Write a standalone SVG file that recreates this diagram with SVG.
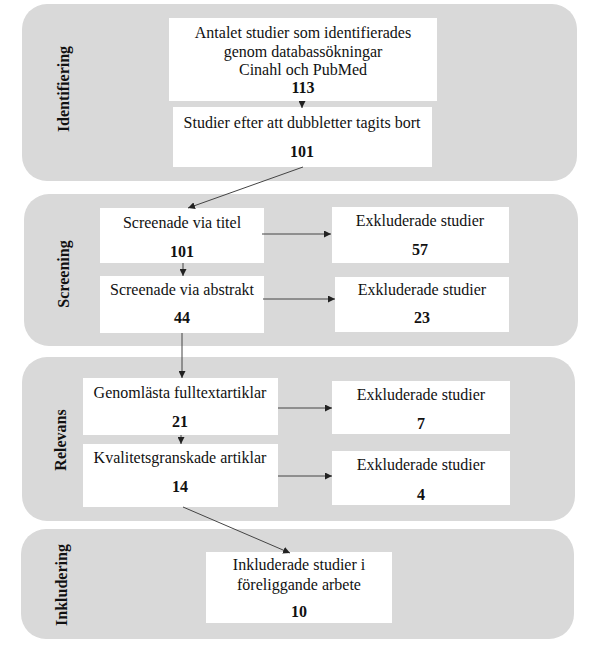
<svg xmlns="http://www.w3.org/2000/svg" width="598" height="646" viewBox="0 0 598 646">
<defs>
<marker id="ah" viewBox="0 0 10 10" refX="10" refY="5" markerWidth="7" markerHeight="7" markerUnits="userSpaceOnUse" orient="auto">
<path d="M0,0 L10,5 L0,10 z" fill="#222"/>
</marker>
</defs>
<style>
.panel{fill:#d9d9d9}
.box{fill:#ffffff}
.b{font-weight:bold}
.lab{font-weight:bold;font-size:16px}
.c{stroke:#444;stroke-width:1;fill:none;marker-end:url(#ah)}
</style>
<rect width="598" height="646" fill="#ffffff"/>
<g font-family="Liberation Serif, Times New Roman, serif" font-size="16" fill="#111" text-anchor="middle">
<g id="panel-identifiering">
<rect class="panel" x="22" y="4" width="555" height="177" rx="25"/>
<text class="lab" transform="translate(69,89) rotate(-90)">Identifiering</text>
</g>
<g id="panel-screening">
<rect class="panel" x="24" y="194" width="554" height="152" rx="25"/>
<text class="lab" transform="translate(69,274) rotate(-90)">Screening</text>
</g>
<g id="panel-relevans">
<rect class="panel" x="22" y="357" width="553" height="164" rx="25"/>
<text class="lab" transform="translate(66,440) rotate(-90)">Relevans</text>
</g>
<g id="panel-inkludering">
<rect class="panel" x="21" y="529" width="553" height="110" rx="25"/>
<text class="lab" transform="translate(67,585) rotate(-90)">Inkludering</text>
</g>
<g id="n-antalet">
<rect class="box" x="169" y="18" width="268" height="83"/>
<text x="303" y="38">Antalet studier som identifierades</text>
<text x="303" y="56.5">genom databassökningar</text>
<text x="303" y="75">Cinahl och PubMed</text>
<text class="b" x="303" y="93">113</text>
</g>
<g id="n-dubbletter">
<rect class="box" x="173" y="107" width="259" height="60"/>
<text x="302" y="128">Studier efter att dubbletter tagits bort</text>
<text class="b" x="302" y="157">101</text>
</g>
<g id="n-titel">
<rect class="box" x="100" y="208" width="164" height="55"/>
<text x="182" y="228">Screenade via titel</text>
<text class="b" x="182" y="257">101</text>
</g>
<g id="n-exkl57">
<rect class="box" x="332" y="207" width="177" height="56"/>
<text x="420" y="226">Exkluderade studier</text>
<text class="b" x="420" y="255">57</text>
</g>
<g id="n-abstrakt">
<rect class="box" x="100" y="276" width="164" height="57"/>
<text x="182" y="295">Screenade via abstrakt</text>
<text class="b" x="182" y="323">44</text>
</g>
<g id="n-exkl23">
<rect class="box" x="335" y="277" width="174" height="55"/>
<text x="422" y="295">Exkluderade studier</text>
<text class="b" x="422" y="323">23</text>
</g>
<g id="n-fulltext">
<rect class="box" x="83" y="378" width="195" height="57"/>
<text x="180" y="398">Genomlästa fulltextartiklar</text>
<text class="b" x="180" y="427">21</text>
</g>
<g id="n-exkl7">
<rect class="box" x="332" y="381" width="178" height="53"/>
<text x="421" y="400">Exkluderade studier</text>
<text class="b" x="421" y="429">7</text>
</g>
<g id="n-kvalitet">
<rect class="box" x="83" y="444" width="195" height="63"/>
<text x="180" y="463">Kvalitetsgranskade artiklar</text>
<text class="b" x="180" y="492">14</text>
</g>
<g id="n-exkl4">
<rect class="box" x="332" y="451" width="178" height="54"/>
<text x="421" y="470">Exkluderade studier</text>
<text class="b" x="421" y="500">4</text>
</g>
<g id="n-inkluderade">
<rect class="box" x="206" y="552" width="186" height="71"/>
<text x="299" y="570">Inkluderade studier i</text>
<text x="299" y="590">föreliggande arbete</text>
<text class="b" x="299" y="617">10</text>
</g>
</g>
<g id="connectors">
<line class="c" x1="302" y1="101" x2="302" y2="108"/>
<line class="c" x1="303" y1="167" x2="188" y2="208"/>
<line class="c" x1="262" y1="234" x2="331" y2="234"/>
<line class="c" x1="183" y1="263" x2="183" y2="276"/>
<line class="c" x1="263" y1="299" x2="335" y2="299"/>
<line class="c" x1="182" y1="333" x2="182" y2="378"/>
<line class="c" x1="278" y1="408" x2="332" y2="408"/>
<line class="c" x1="181" y1="435" x2="181" y2="444"/>
<line class="c" x1="278" y1="476" x2="332" y2="476"/>
<line class="c" x1="183" y1="507" x2="290" y2="553"/>
</g>
</svg>
